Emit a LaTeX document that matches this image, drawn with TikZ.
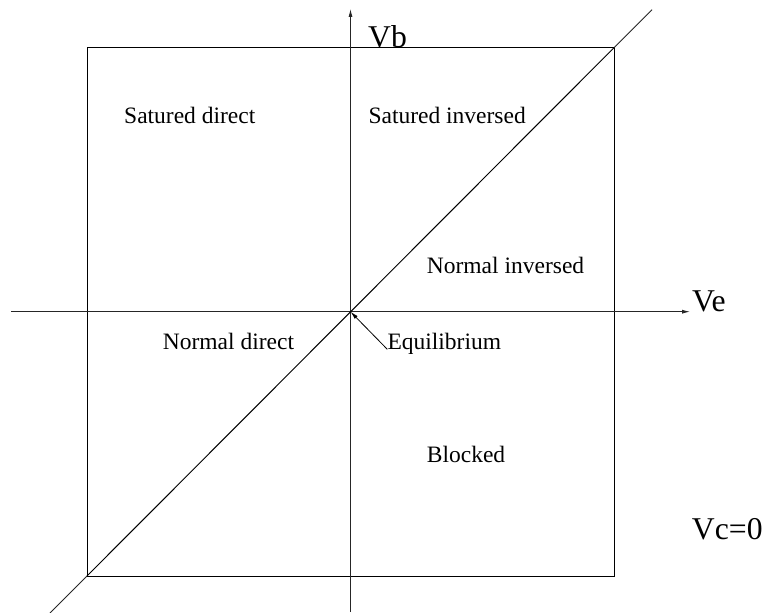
\documentclass[tikz,border=0pt]{standalone}
\usepackage{fontspec}
\setmainfont{Liberation Serif}
\usetikzlibrary{arrows.meta}
\begin{document}
\begin{tikzpicture}[x=1pt,y=-1pt,
  region/.style={anchor=base west,inner sep=0pt,font=\fontsize{23.5}{28}\selectfont},
  axislabel/.style={anchor=base west,inner sep=0pt,font=\fontsize{31.7}{38}\selectfont},
  axisline/.style={line width=0.8pt,black!85},
  tip/.style={-{Latex[length=8pt,width=4pt]}}]
  \useasboundingbox (0,0) rectangle (767,612);
  % corners of the operating square and the origin
  \coordinate (O) at (350.5,311.7);
  \coordinate (SW) at (87,576);
  \coordinate (NE) at (614,47.7);
  % axis end points
  \coordinate (xl) at (11,311.7);
  \coordinate (xr) at (690,311.7);
  \coordinate (yb) at (350.5,612);
  \coordinate (yt) at (350.5,9);
  \coordinate (dl) at (50,613);
  \coordinate (dr) at (652,9.7);
  % square
  \draw[line width=1pt] (SW) rectangle (NE);
  % axes
  \draw[axisline,tip] (xl) -- (xr);
  \draw[axisline,tip] (yb) -- (yt);
  % diagonal Ve = Vb
  \draw[line width=1pt] (SW) -- (NE);
  \draw[axisline] (dl) -- (SW);
  \draw[axisline] (NE) -- (dr);
  % axis labels
  \node[axislabel] (vb) at (368,48) {Vb};
  \node[axislabel] (ve) at (692,311.7) {Ve};
  \node[axislabel] (vc) at (691.7,539) {Vc=0};
  % region labels
  \node[region] (sd) at (124,123.3) {Satured direct};
  \node[region] (si) at (368.3,123.3) {Satured inversed};
  \node[region] (ni) at (426.7,273.3) {Normal inversed};
  \node[region] (nd) at (162.7,349.3) {Normal direct};
  \node[region] (bl) at (426.7,462.3) {Blocked};
  \node[region] (eq) at (387.3,349.3) {Equilibrium};
  \draw[line width=0.8pt,-{Latex[length=8pt,width=4pt]}] (eq.base west) -- (O);
\end{tikzpicture}
\end{document}
